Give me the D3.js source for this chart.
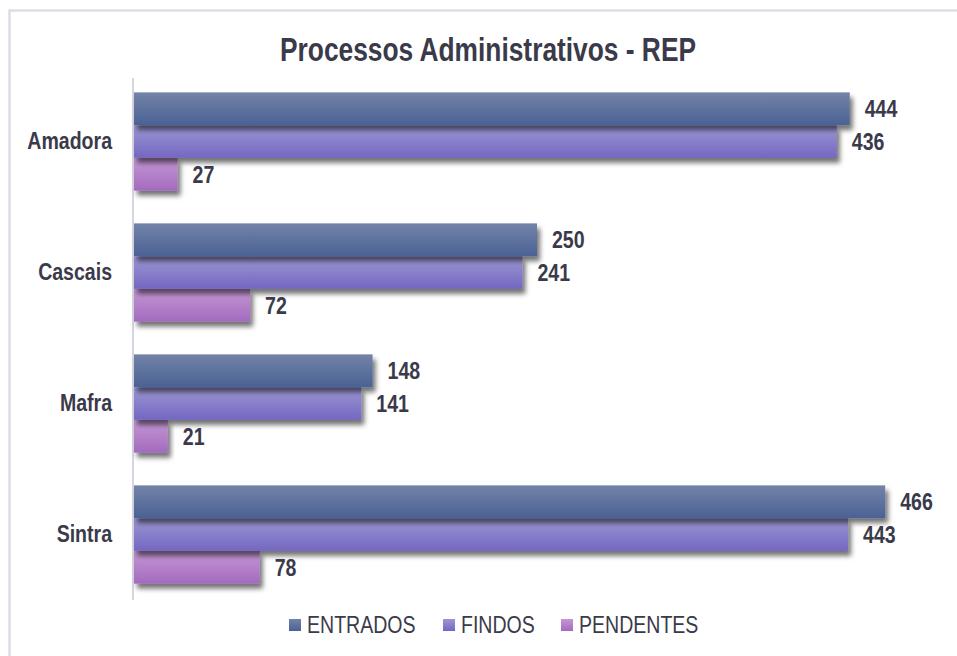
<!DOCTYPE html>
<html>
<head>
	<meta charset="utf-8" />
	<style>
		body {
			margin: 0;
			background-color: #fff;
			font-family: 'Liberation Sans', Arial, sans-serif;
		}
		.frame {
			fill: none;
			stroke: #dddde8;
			stroke-width: 2.5px;
		}
		.axisLine {
			stroke: #d6d6e2;
			stroke-width: 2px;
		}
		.title {
			fill: #3a3a4a;
			font-size: 34px;
			font-weight: bold;
		}
		.catLabel {
			fill: #3a3a4a;
			font-size: 23px;
			font-weight: bold;
		}
		.valLabel {
			fill: #3a3a4a;
			font-size: 23px;
			font-weight: bold;
		}
		.legText {
			fill: #3a3a4a;
			font-size: 23px;
		}
	</style>
</head>
<body>
<div class='chart'></div>

<script src="https://d3js.org/d3.v7.min.js"></script>
<script>

//// data ////
var categories = ['Amadora', 'Cascais', 'Mafra', 'Sintra'];
var seriesNames = ['ENTRADOS', 'FINDOS', 'PENDENTES'];
var entrados = [444, 250, 148, 466];
var findos = [436, 241, 141, 443];
var pendentes = [27, 72, 21, 78];
var xMax = 500;

var seriesValues = [entrados, findos, pendentes];
var colors = [
	{top: '#7383a8', bottom: '#4a6294'},
	{top: '#9d97d3', bottom: '#7367c1'},
	{top: '#c598d3', bottom: '#a36abf'}
];

// the picture's text is narrow, so squeeze it sideways
var narrow = 0.85;

var width = 957, height = 656;
var plot = {left: 134, right: 940, top: 76, bottom: 600};

var svg = d3.select('.chart').append('svg')
	.attr('width', width)
	.attr('height', height);

var defs = svg.append('defs');

// gradients for bars
seriesNames.forEach(function(s, i) {
	var g = defs.append('linearGradient')
		.attr('id', 'grad' + i)
		.attr('x1', 0).attr('y1', 0)
		.attr('x2', 0).attr('y2', 1);
	g.append('stop').attr('offset', '0%').attr('stop-color', colors[i].top);
	g.append('stop').attr('offset', '100%').attr('stop-color', colors[i].bottom);
});

// drop shadow
var f = defs.append('filter')
	.attr('id', 'shadow')
	.attr('x', '-10%').attr('y', '-20%')
	.attr('width', '130%').attr('height', '170%');
f.append('feDropShadow')
	.attr('dx', 3).attr('dy', 5)
	.attr('stdDeviation', 2.5)
	.attr('flood-color', '#000')
	.attr('flood-opacity', 0.55);

// outer frame (only top/left edges show)
svg.append('rect')
	.attr('class', 'frame')
	.attr('x', 9.5).attr('y', 10.5)
	.attr('width', width + 20).attr('height', height + 20);

// title
svg.append('text')
	.attr('class', 'title')
	.attr('x', 488).attr('y', 61)
	.attr('text-anchor', 'middle')
	.attr('textLength', 416)
	.attr('lengthAdjust', 'spacingAndGlyphs')
	.text('Processos Administrativos - REP');

// scales
var x = d3.scaleLinear().domain([0, xMax]).range([plot.left, plot.right]);
var y0 = d3.scaleBand().domain(categories).range([plot.top, plot.bottom]).paddingInner(0.25).paddingOuter(0.125);
var y1 = d3.scaleBand().domain(seriesNames).range([0, y0.bandwidth()]);

// category axis
var yAxis = svg.append('g')
	.attr('transform', 'translate(' + plot.left + ',0)')
	.call(d3.axisLeft(y0).tickSize(0).tickPadding(0));
yAxis.select('.domain').remove();
yAxis.selectAll('text')
	.attr('class', 'catLabel')
	.attr('fill', null)
	.attr('x', -22 / narrow)
	.attr('transform', 'scale(' + narrow + ',1)');
yAxis.attr('font-size', null).attr('font-family', null);

svg.append('line')
	.attr('class', 'axisLine')
	.attr('x1', plot.left - 1).attr('x2', plot.left - 1)
	.attr('y1', plot.top + 2).attr('y2', plot.bottom);

// bars
var rows = [];
categories.forEach(function(c, ci) {
	seriesNames.forEach(function(s, si) {
		rows.push({cat: c, series: s, si: si, value: seriesValues[si][ci]});
	});
});

var groups = svg.selectAll('.grp')
	.data(categories)
	.enter().append('g')
	.attr('class', 'grp')
	.attr('transform', function(d) { return 'translate(0,' + y0(d) + ')'; });

// draw bottom bar first so shadows fall on the bar below
groups.selectAll('rect')
	.data(function(c) { return rows.filter(function(r) { return r.cat === c; }).reverse(); })
	.enter().append('rect')
	.attr('x', x(0))
	.attr('y', function(d) { return y1(d.series); })
	.attr('width', function(d) { return x(d.value) - x(0); })
	.attr('height', y1.bandwidth())
	.attr('fill', function(d) { return 'url(#grad' + d.si + ')'; })
	.attr('filter', 'url(#shadow)');

groups.selectAll('.valLabel')
	.data(function(c) { return rows.filter(function(r) { return r.cat === c; }); })
	.enter().append('text')
	.attr('class', 'valLabel')
	.attr('transform', function(d) {
		return 'translate(' + (x(d.value) + 15) + ',' + (y1(d.series) + y1.bandwidth() / 2) + ') scale(' + narrow + ',1)';
	})
	.attr('dy', '0.36em')
	.text(function(d) { return d.value; });

// legend
var legX = [289, 443, 561];
var leg = svg.selectAll('.leg')
	.data(seriesNames)
	.enter().append('g')
	.attr('class', 'leg')
	.attr('transform', function(d, i) { return 'translate(' + legX[i] + ',619)'; });
leg.append('rect')
	.attr('width', 12).attr('height', 12)
	.attr('fill', function(d, i) { return 'url(#grad' + i + ')'; });
leg.append('text')
	.attr('class', 'legText')
	.attr('transform', 'translate(18,6) scale(' + narrow + ',1)')
	.attr('dy', '0.36em')
	.text(function(d) { return d; });

</script>
</body>
</html>
